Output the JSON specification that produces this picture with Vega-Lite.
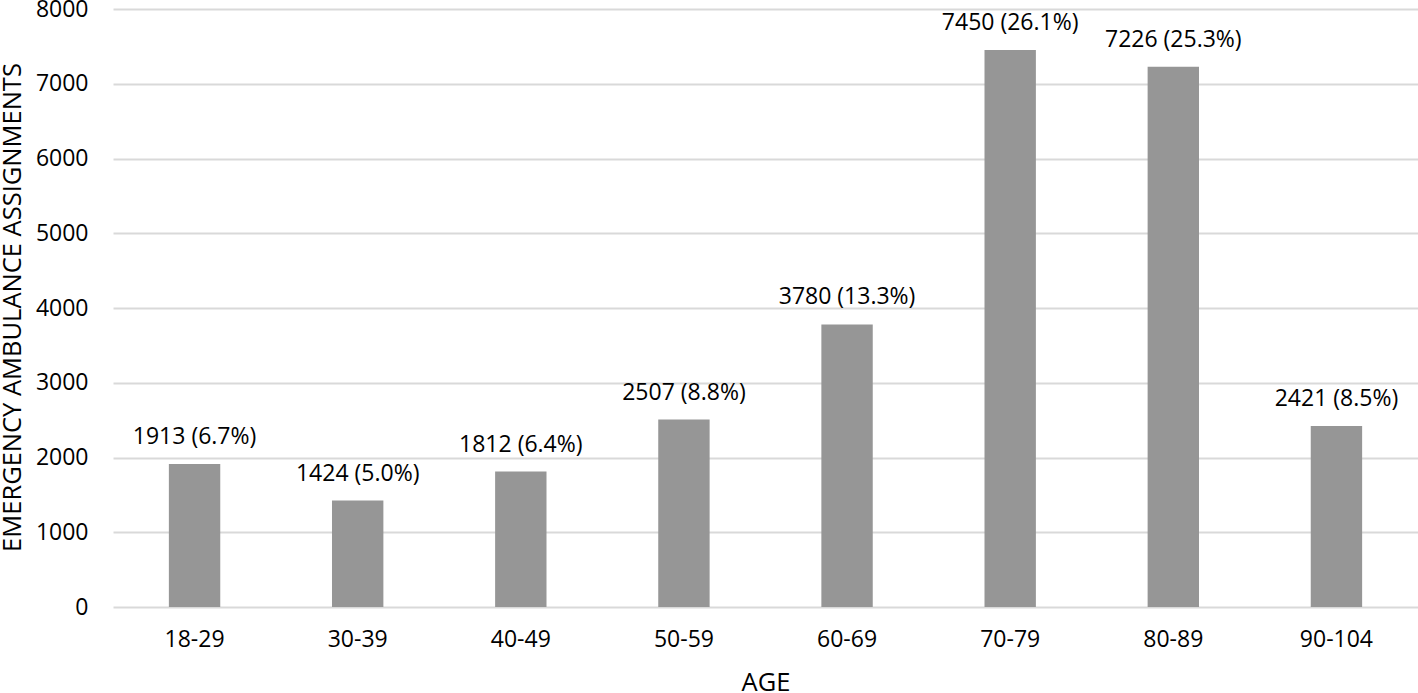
{
  "$schema": "https://vega.github.io/schema/vega-lite/v6.json",
  "autosize": {"type": "none"},
  "padding": {"left": 113, "top": 9, "right": 0, "bottom": 86},
  "width": 1305,
  "height": 598,
  "background": "white",
  "config": {
    "view": {"stroke": null},
    "font": "Open Sans",
    "axis": {"labelFont": "Open Sans", "titleFont": "Open Sans", "labelColor": "#000000", "titleColor": "#000000", "labelFontSize": 23, "titleFontSize": 25.5, "titleFontWeight": "normal"}
  },
  "data": {
    "values": [
      {"age": "18-29", "count": 1913, "label": "1913 (6.7%)"},
      {"age": "30-39", "count": 1424, "label": "1424 (5.0%)"},
      {"age": "40-49", "count": 1812, "label": "1812 (6.4%)"},
      {"age": "50-59", "count": 2507, "label": "2507 (8.8%)"},
      {"age": "60-69", "count": 3780, "label": "3780 (13.3%)"},
      {"age": "70-79", "count": 7450, "label": "7450 (26.1%)"},
      {"age": "80-89", "count": 7226, "label": "7226 (25.3%)"},
      {"age": "90-104", "count": 2421, "label": "2421 (8.5%)"}
    ]
  },
  "encoding": {
    "x": {
      "field": "age", "type": "nominal", "sort": null,
      "scale": {"paddingInner": 0.685, "paddingOuter": 0.3425},
      "axis": {"title": "AGE", "labelAngle": 0, "ticks": false, "domain": false, "grid": false, "labelPadding": 21, "titleY": 63, "titleBaseline": "top"}
    },
    "y": {
      "field": "count", "type": "quantitative",
      "scale": {"domain": [0, 8000], "nice": false},
      "axis": {"title": "EMERGENCY AMBULANCE ASSIGNMENTS", "values": [0, 1000, 2000, 3000, 4000, 5000, 6000, 7000, 8000], "format": "d", "ticks": false, "domain": false, "grid": true, "gridColor": "#d9d9d9", "gridWidth": 2, "labelPadding": 25, "titleX": -93, "titleY": 298, "titleAngle": -90, "titleBaseline": "alphabetic", "titleAlign": "center"}
    }
  },
  "layer": [
    {"mark": {"type": "bar", "color": "#969696"}},
    {"mark": {"type": "text", "dy": -20, "baseline": "alphabetic", "fontSize": 23, "color": "#000000", "font": "Open Sans"}, "encoding": {"text": {"field": "label"}}}
  ]
}
